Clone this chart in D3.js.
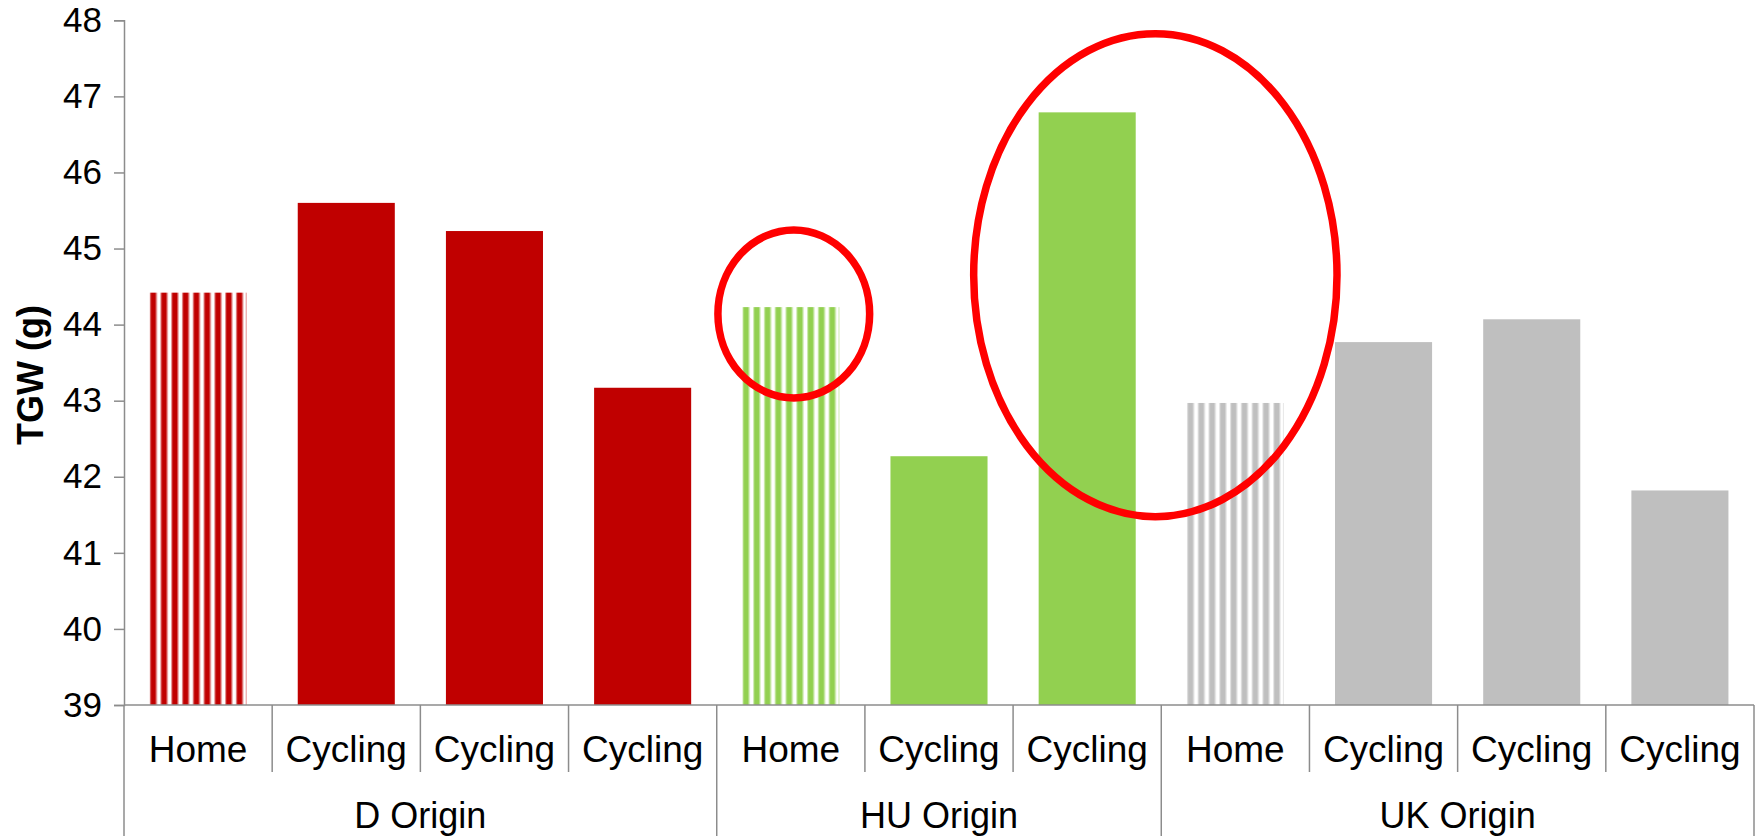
<!DOCTYPE html>
<html>
<head>
<meta charset="utf-8">
<script src="https://cdn.jsdelivr.net/npm/d3@7"></script>
<style>
  html, body { margin: 0; padding: 0; background: #ffffff; }
  svg { display: block; font-family: "Liberation Sans", Arial, Helvetica, sans-serif; }
</style>
</head>
<body>
<svg id="chart" width="1761" height="836"></svg>
<script>
// Thousand-grain weight by seed origin and production site
const origins    = ["D Origin", "HU Origin", "UK Origin"];
const groupSizes = [4, 3, 4];
const categories = ["Home", "Cycling", "Cycling", "Cycling",
                    "Home", "Cycling", "Cycling",
                    "Home", "Cycling", "Cycling", "Cycling"];
const tgw        = [44.42, 45.60, 45.23, 43.17,
                    44.23, 42.27, 46.79,
                    42.97, 43.77, 44.07, 41.82];
const originColors = ["#C00000", "#92D050", "#BFBFBF"];
const yTicks     = [39, 40, 41, 42, 43, 44, 45, 46, 47, 48];
const yDomain    = [39, 48];

// Highlight rings: centre at (category index, TGW value), radii in category steps / TGW units
const highlightCx = [4.02, 6.46];
const highlightCy = [44.14, 44.65];
const highlightRx = [0.512, 1.226];
const highlightRy = [1.104, 3.174];

const W = 1761, H = 836;
const plotLeft = 124, plotRight = 1754, plotTop = 20.3, plotBottom = 705;

const svg = d3.select("#chart");

// Row-level records built from the arrays above
const originOf = [];
groupSizes.forEach((n, g) => { for (let i = 0; i < n; i++) originOf.push(g); });
const rows = categories.map((c, i) => ({ idx: i, label: c, value: tgw[i], group: originOf[i] }));

const x = d3.scaleBand()
  .domain(rows.map(d => d.idx))
  .range([plotLeft, plotRight])
  .paddingInner(0.345)
  .paddingOuter(0.1725);

const step = x.step();
const xPos = d3.scaleLinear()           // fractional category index -> pixel
  .domain([0, categories.length])
  .range([plotLeft, plotRight]);

const y = d3.scaleLinear().domain(yDomain).range([plotBottom, plotTop]);

// Striped fills for the "Home" bars
const defs = svg.append("defs");
const nStripes = 9;
rows.filter(d => d.label === "Home").forEach(d => {
  const col = originColors[d.group];
  const period = x.bandwidth() / nStripes;
  const p = defs.append("pattern")
    .attr("id", "stripe-" + d.idx)
    .attr("patternUnits", "userSpaceOnUse")
    .attr("x", x(d.idx))
    .attr("y", 0)
    .attr("width", period)
    .attr("height", H);
  p.append("rect").attr("x", 0).attr("y", 0).attr("width", period).attr("height", H).attr("fill", "#ffffff");
  p.append("rect").attr("x", 0).attr("y", 0).attr("width", 1.1).attr("height", H).attr("fill", col).attr("opacity", 0.45);
  p.append("rect").attr("x", 1.1).attr("y", 0).attr("width", period * 0.5).attr("height", H).attr("fill", col);
  p.append("rect").attr("x", 1.1 + period * 0.5).attr("y", 0).attr("width", 1.1).attr("height", H).attr("fill", col).attr("opacity", 0.4);
});

// Bars
svg.append("g").selectAll("rect.bar")
  .data(rows)
  .join("rect")
  .attr("class", "bar")
  .attr("x", d => x(d.idx))
  .attr("width", x.bandwidth())
  .attr("y", d => y(d.value))
  .attr("height", d => y(yDomain[0]) - y(d.value))
  .attr("fill", d => d.label === "Home" ? `url(#stripe-${d.idx})` : originColors[d.group]);

// Faint closing edge on the striped bars
svg.append("g").selectAll("line.edge")
  .data(rows.filter(d => d.label === "Home"))
  .join("line")
  .attr("x1", d => x(d.idx) + x.bandwidth() - 0.5)
  .attr("x2", d => x(d.idx) + x.bandwidth() - 0.5)
  .attr("y1", d => y(d.value))
  .attr("y2", y(yDomain[0]))
  .attr("stroke", d => originColors[d.group])
  .attr("stroke-opacity", 0.35)
  .attr("stroke-width", 1);

const axisColor = "#8c8c8c";

// Y axis
const yAxis = svg.append("g")
  .attr("transform", `translate(${plotLeft},0)`)
  .call(d3.axisLeft(y).tickValues(yTicks).tickSize(10).tickPadding(12).tickFormat(d3.format("d")));
yAxis.select(".domain").attr("stroke", axisColor).attr("stroke-width", 1.5);
yAxis.selectAll(".tick line").attr("stroke", axisColor).attr("stroke-width", 1.5);
yAxis.selectAll(".tick text")
  .attr("fill", "#000")
  .style("font-size", "35px")
  .style("font-family", "'Liberation Sans', Arial, sans-serif");

// Y axis title
svg.append("text")
  .attr("transform", `translate(43,375) rotate(-90)`)
  .attr("text-anchor", "middle")
  .style("font-size", "36px")
  .style("font-weight", "bold")
  .attr("fill", "#000")
  .text("TGW (g)");

// X axis baseline
svg.append("line")
  .attr("x1", plotLeft).attr("x2", plotRight)
  .attr("y1", plotBottom).attr("y2", plotBottom)
  .attr("stroke", axisColor).attr("stroke-width", 1.5);

// Category and group separators
const groupBounds = [0];
groupSizes.forEach((n, g) => groupBounds.push(groupBounds[g] + n));
const boundaries = d3.range(categories.length + 1);
svg.append("g").selectAll("line.sep")
  .data(boundaries)
  .join("line")
  .attr("x1", i => xPos(i)).attr("x2", i => xPos(i))
  .attr("y1", plotBottom)
  .attr("y2", i => groupBounds.includes(i) ? H : 772)
  .attr("stroke", axisColor)
  .attr("stroke-width", 1.5);

// Category labels
svg.append("g").selectAll("text.cat")
  .data(rows)
  .join("text")
  .attr("x", d => x(d.idx) + x.bandwidth() / 2)
  .attr("y", 762)
  .attr("text-anchor", "middle")
  .style("font-size", "37px")
  .attr("fill", "#000")
  .text(d => d.label);

// Origin labels
svg.append("g").selectAll("text.grp")
  .data(origins)
  .join("text")
  .attr("x", (d, g) => (xPos(groupBounds[g]) + xPos(groupBounds[g + 1])) / 2)
  .attr("y", 828)
  .attr("text-anchor", "middle")
  .style("font-size", "36px")
  .attr("fill", "#000")
  .text(d => d);

// Highlight rings
svg.append("g").selectAll("ellipse")
  .data(highlightCx.map((c, i) => i))
  .join("ellipse")
  .attr("cx", i => xPos(highlightCx[i] + 0.5))
  .attr("cy", i => y(highlightCy[i]))
  .attr("rx", i => highlightRx[i] * step)
  .attr("ry", i => y(yDomain[0]) - y(yDomain[0] + highlightRy[i]))
  .attr("fill", "none")
  .attr("stroke", "#FF0000")
  .attr("stroke-width", 7.5);
</script>
</body>
</html>
